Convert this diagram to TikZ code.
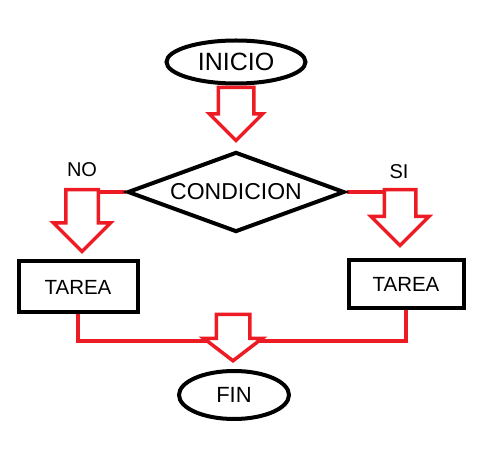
\documentclass[tikz,border=0pt]{standalone}
\usepackage{fontspec}
\setmainfont{Liberation Sans}
\usetikzlibrary{shapes.geometric,shapes.arrows,backgrounds}
\definecolor{rojo}{RGB}{237,28,36}
\tikzset{
  ovalo/.style={draw, ellipse, line width=4pt, inner sep=0pt},
  caja/.style={draw, rectangle, line width=4pt, font=\fontsize{20.5}{22}\selectfont},
  etiqueta/.style={font=\fontsize{20}{22}\selectfont},
  flecha/.style={draw=rojo, fill=white, line width=3.5pt, single arrow, shape border rotate=270, anchor=tip},
  linea/.style={draw=rojo, line width=3.5pt}
}

\begin{document}
\begin{tikzpicture}[x=1pt, y=-1pt]
\useasboundingbox (0,0) rectangle (491,462);

\node[ovalo, minimum width=139pt, minimum height=43pt, font=\fontsize{25}{27}\selectfont] (ini) at (236,62) {INICIO};
\node[draw, diamond, shape aspect=2.7, line width=4pt, inner sep=0pt, minimum width=217pt, minimum height=80pt, font=\fontsize{23}{25}\selectfont] (cond) at (236,192) {CONDICION};
\node[caja, minimum width=119pt, minimum height=51pt] (tno) at (78,287) {TAREA};
\node[caja, minimum width=115pt, minimum height=48pt] (tsi) at (406,284) {TAREA};
\node[ovalo, minimum width=110pt, minimum height=48pt, font=\fontsize{22}{24}\selectfont] (fin) at (234,395) {FIN};
\node[etiqueta] (no) at (82,170) {NO};
\node[etiqueta] (si) at (399,172) {SI};

% flechas huecas
\node[flecha, inner sep=16pt, minimum height=50pt, single arrow head extend=9pt] (f1) at (236,143) {};
\node[flecha, inner sep=14.5pt, minimum height=62pt, single arrow head extend=12.5pt] (fno) at (82,254) {};
\node[flecha, inner sep=14pt, minimum height=56pt, single arrow head extend=13.5pt] (fsi) at (400,248) {};
\node[flecha, inner sep=15pt, minimum height=40pt, single arrow head extend=12.5pt, single arrow tip angle=105] (ffin) at (233,363) {};
\coordinate (mrg) at (233,341);

\begin{scope}[on background layer]
\draw[linea] (cond.west) -- (cond.west -| fno.tail);
\draw[linea] (cond.east) -- (cond.east -| fsi.tail);
\draw[linea] (tno.south) |- (mrg);
\draw[linea] (tsi.south) |- (mrg);
\end{scope}
\end{tikzpicture}
\end{document}
